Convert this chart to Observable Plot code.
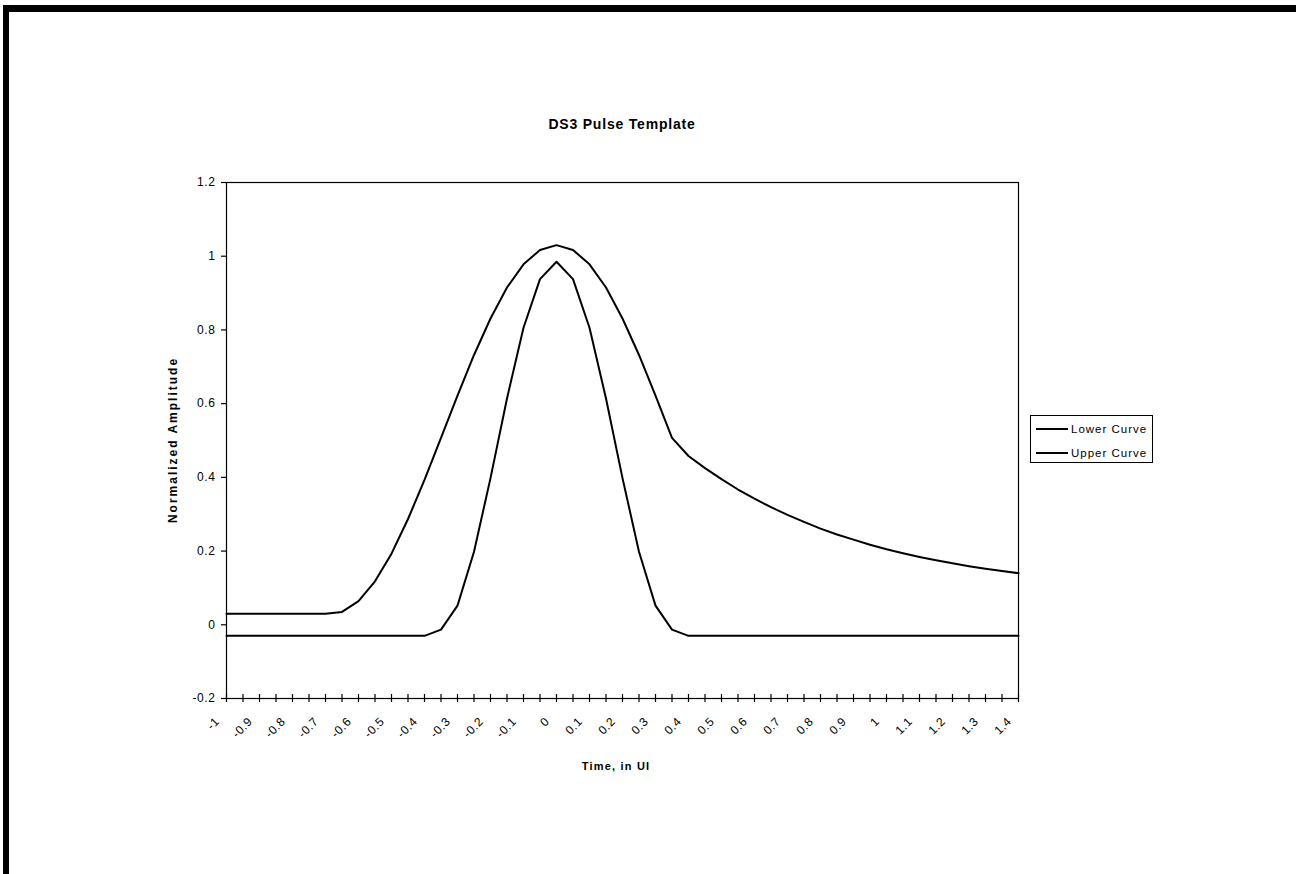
<!DOCTYPE html>
<html>
<head>
<meta charset="utf-8">
<script src="https://cdn.jsdelivr.net/npm/d3@7"></script>
<script src="https://cdn.jsdelivr.net/npm/@observablehq/plot@0.6"></script>
<style>
  html, body { margin: 0; padding: 0; background: #fff; }
  #wrap { position: relative; width: 1296px; height: 874px; overflow: hidden; font-family: "Liberation Sans", Arial, sans-serif; color: #000; }
  #chart { position: absolute; left: 0; top: 0; }
  .band { position: absolute; background: #000; }
  .title { position: absolute; left: 0; width: 1244px; text-align: center; top: 117px; font-size: 14px; line-height: 14px; font-weight: bold; letter-spacing: 0.8px; white-space: nowrap; }
  .xlabel { position: absolute; left: 0; width: 1232px; text-align: center; top: 761px; font-size: 11px; line-height: 11px; font-weight: bold; letter-spacing: 1.2px; white-space: nowrap; }
  .ylabel { position: absolute; left: 173px; top: 440px; transform: translate(-50%, -50%) rotate(-90deg); font-size: 12px; line-height: 12px; font-weight: bold; letter-spacing: 2px; white-space: nowrap; }
  .legend { position: absolute; left: 1030px; top: 415px; width: 121px; height: 46px; border: 1px solid #000; background: #fff; }
  .legend .row { position: absolute; left: 5px; height: 14px; display: flex; align-items: center; font-size: 11.5px; letter-spacing: 1px; white-space: nowrap; }
  .legend .swatch { display: inline-block; width: 32px; height: 2px; background: #000; margin-right: 3px; }
</style>
</head>
<body>
<div id="wrap">
  <div class="band" style="left:3px; top:5px; width:1293px; height:7px;"></div>
  <div class="band" style="left:3px; top:5px; width:6px; height:869px;"></div>
  <div id="chart"></div>
  <div class="title">DS3 Pulse Template</div>
  <div class="xlabel">Time, in UI</div>
  <div class="ylabel">Normalized Amplitude</div>
  <div class="legend" id="legend"></div>
</div>
<script>
// Categories (time, in UI)
const times = [-1, -0.95, -0.9, -0.85, -0.8, -0.75, -0.7, -0.65, -0.6, -0.55,
  -0.5, -0.45, -0.4, -0.35, -0.3, -0.25, -0.2, -0.15, -0.1, -0.05,
  0, 0.05, 0.1, 0.15, 0.2, 0.25, 0.3, 0.35, 0.4, 0.45,
  0.5, 0.55, 0.6, 0.65, 0.7, 0.75, 0.8, 0.85, 0.9, 0.95,
  1, 1.05, 1.1, 1.15, 1.2, 1.25, 1.3, 1.35, 1.4];

// Tick labels shown on every other category
const xLabelTimes = [-1, -0.9, -0.8, -0.7, -0.6, -0.5, -0.4, -0.3, -0.2, -0.1,
  0, 0.1, 0.2, 0.3, 0.4, 0.5, 0.6, 0.7, 0.8, 0.9, 1, 1.1, 1.2, 1.3, 1.4];
const xTickLabels = ["-1", "-0.9", "-0.8", "-0.7", "-0.6", "-0.5", "-0.4", "-0.3", "-0.2", "-0.1",
  "0", "0.1", "0.2", "0.3", "0.4", "0.5", "0.6", "0.7", "0.8", "0.9", "1", "1.1", "1.2", "1.3", "1.4"];

const yTicks = [-0.2, 0, 0.2, 0.4, 0.6, 0.8, 1, 1.2];
const yTickLabels = ["-0.2", "0", "0.2", "0.4", "0.6", "0.8", "1", "1.2"];

// Series values (normalized amplitude)
const lowerCurve = [-0.03, -0.03, -0.03, -0.03, -0.03, -0.03, -0.03, -0.03, -0.03, -0.03,
  -0.03, -0.03, -0.03, -0.013, 0.052, 0.198, 0.398, 0.614, 0.806, 0.938,
  0.985, 0.938, 0.806, 0.614, 0.398, 0.198, 0.052, -0.013, -0.03, -0.03,
  -0.03, -0.03, -0.03, -0.03, -0.03, -0.03, -0.03, -0.03, -0.03, -0.03,
  -0.03, -0.03, -0.03, -0.03, -0.03, -0.03, -0.03, -0.03, -0.03];
const upperCurve = [0.03, 0.03, 0.03, 0.03, 0.03, 0.03, 0.03, 0.035, 0.064, 0.118,
  0.193, 0.287, 0.393, 0.507, 0.622, 0.732, 0.831, 0.915, 0.978, 1.017,
  1.03, 1.017, 0.978, 0.915, 0.831, 0.732, 0.622, 0.507, 0.458, 0.425,
  0.395, 0.367, 0.342, 0.319, 0.298, 0.279, 0.261, 0.245, 0.231, 0.217,
  0.205, 0.194, 0.184, 0.175, 0.167, 0.159, 0.152, 0.146, 0.140];

const seriesNames = ["Lower Curve", "Upper Curve"];

const rows = [];
times.forEach((t, i) => rows.push({t, v: lowerCurve[i], series: seriesNames[0]}));
times.forEach((t, i) => rows.push({t, v: upperCurve[i], series: seriesNames[1]}));

const labelRows = xLabelTimes.map((t, k) => ({t, label: xTickLabels[k]}));

const chart = Plot.plot({
  width: 1296,
  height: 874,
  marginLeft: 226,
  marginRight: 278,
  marginTop: 182,
  marginBottom: 176,
  style: {fontFamily: "'Liberation Sans', Arial, sans-serif", fontSize: "12px", background: "transparent", color: "#000"},
  x: {type: "linear", domain: [times[0], times[times.length - 1]], axis: null},
  y: {domain: [-0.2, 1.2], axis: null},
  marks: [
    Plot.frame({stroke: "#000", strokeWidth: 1.2}),
    Plot.axisY({ticks: yTicks, tickFormat: d => yTickLabels[yTicks.indexOf(d)], tickSize: 5, tickPadding: 6, fontSize: 12, label: null, stroke: "#000", strokeWidth: 1.2}),
    Plot.ruleX(times, {x: d => d, y1: -0.2, y2: -0.2, insetTop: -4, insetBottom: -4, stroke: "#000", strokeWidth: 1.2}),
    Plot.text(labelRows, {x: "t", text: "label", frameAnchor: "bottom", rotate: -45, textAnchor: "end", lineAnchor: "middle", dx: -9, dy: 21, fontSize: 12, fill: "#000"}),
    Plot.line(rows, {x: "t", y: "v", z: "series", stroke: "#000", strokeWidth: 2})
  ]
});
chart.querySelectorAll("text").forEach(t => t.setAttribute("letter-spacing", "0.6"));
document.getElementById("chart").appendChild(chart);

const legend = document.getElementById("legend");
seriesNames.forEach((name, i) => {
  const row = document.createElement("div");
  row.className = "row";
  row.style.top = (6 + i * 24) + "px";
  const sw = document.createElement("span");
  sw.className = "swatch";
  const tx = document.createElement("span");
  tx.textContent = name;
  row.appendChild(sw);
  row.appendChild(tx);
  legend.appendChild(row);
});
</script>
</body>
</html>
